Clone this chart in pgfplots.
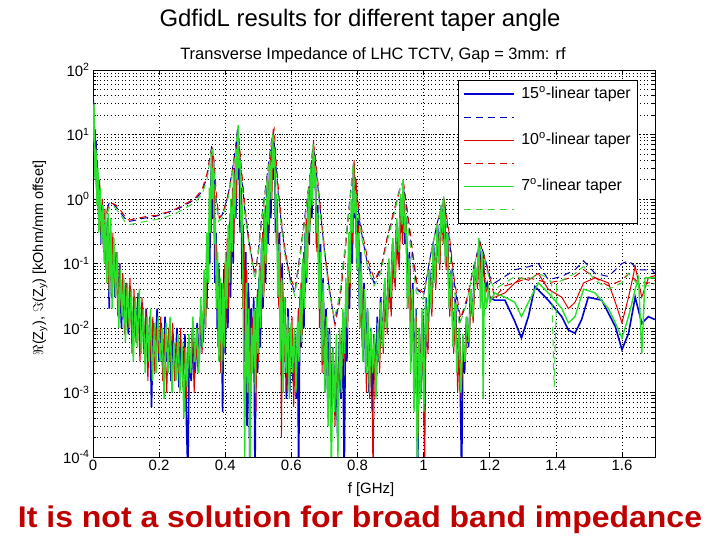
\documentclass[border=0pt]{standalone}
\usepackage{pgfplots}
\pgfplotsset{compat=1.18}
\usepackage{fontspec}
\setmainfont{Liberation Sans}
\definecolor{mblue}{RGB}{0,0,210}
\definecolor{mred}{RGB}{225,0,0}
\definecolor{mgreen}{RGB}{40,225,40}
\definecolor{dblue}{RGB}{0,0,180}
\definecolor{dred}{RGB}{220,0,0}
\definecolor{dgreen}{RGB}{60,215,60}
\definecolor{note}{RGB}{192,0,0}
\begin{document}
\begin{tikzpicture}[x=1bp,y=1bp]
\useasboundingbox (0,0) rectangle (720,540);
\begin{axis}[
  at={(93bp,83bp)}, anchor=south west,
  scale only axis, width=562bp, height=387bp,
  xmin=0, xmax=1.7, ymode=log, ymin=1e-4, ymax=1e2,
  xtick={0,0.2,0.4,0.6,0.8,1,1.2,1.4,1.6},
  xticklabels={0,0.2,0.4,0.6,0.8,1,1.2,1.4,1.6},
  ytick={1e-4,1e-3,1e-2,1e-1,1,10,100},
  yticklabels={10\textsuperscript{-4},10\textsuperscript{-3},10\textsuperscript{-2},10\textsuperscript{-1},10\textsuperscript{0},10\textsuperscript{1},10\textsuperscript{2}},
  tick align=inside, major tick length=5bp, minor tick length=3bp,
  grid=both,
  major grid style={black, line width=0.6bp, dash pattern=on 1bp off 2.5bp},
  minor grid style={black, line width=0.5bp, dash pattern=on 0.8bp off 2.8bp},
  axis line style={black, line width=0.7bp},
  tick style={black, line width=0.5bp},
  tick label style={font=\fontsize{15}{17}\selectfont},
  legend style={at={(0.968,0.974)}, anchor=north east,
    font=\fontsize{16}{18}\selectfont, inner sep=5bp, row sep=5bp,
    nodes={inner sep=1bp, text height=12bp, text depth=4bp}},
  legend cell align=left,
  legend image code/.code={\draw[#1] (0bp,0bp) -- (50bp,0bp);},
]
% 15 deg, real part
\addplot[draw=mblue, line width=1.6bp] coordinates {
(0.000,40)(0.003,20)(0.006,3)(0.009,8)(0.012,1.0)(0.015,2.5)(0.018,0.4)(0.021,1.3)(0.025,0.2)(0.029,0.8)
(0.033,0.15)(0.037,0.6)(0.041,0.08)(0.045,0.4)(0.049,0.02)(0.053,0.3)(0.057,0.06)(0.061,0.25)(0.066,0.03)(0.071,0.15)
(0.076,0.02)(0.081,0.1)(0.086,0.01)(0.091,0.06)(0.096,0.015)(0.101,0.05)(0.107,0.008)(0.113,0.04)(0.119,0.006)(0.125,0.03)
(0.131,0.01)(0.137,0.035)(0.143,0.005)(0.149,0.025)(0.155,0.004)(0.161,0.02)(0.167,0.003)(0.172,0.015)(0.177,0.0006)(0.182,0.012)
(0.188,0.004)(0.194,0.02)(0.200,0.003)(0.206,0.012)(0.212,0.002)(0.218,0.015)(0.224,0.003)(0.230,0.01)(0.236,0.0015)(0.242,0.008)
(0.248,0.002)(0.254,0.01)(0.260,0.0012)(0.266,0.006)(0.272,0.002)(0.278,0.008)(0.283,0.0003)(0.287,0.00005)(0.291,0.004)(0.297,0.0015)
(0.303,0.008)(0.309,0.002)(0.315,0.012)(0.321,0.003)(0.327,0.02)(0.333,0.006)(0.339,0.05)(0.344,0.02)(0.349,0.3)(0.353,0.1)
(0.357,2)(0.360,6)(0.363,0.5)(0.366,2)(0.369,0.05)(0.372,0.3)(0.376,0.01)(0.380,0.1)(0.384,0.003)(0.388,0.05)
(0.392,0.0005)(0.396,0.08)(0.400,0.004)(0.404,0.15)(0.408,0.01)(0.412,0.4)(0.416,0.03)(0.420,1)(0.424,0.1)(0.428,3)
(0.432,0.5)(0.436,10)(0.439,2)(0.442,6)(0.445,0.3)(0.448,1.5)(0.451,0.05)(0.454,0.4)(0.458,0.003)(0.462,0.15)
(0.466,0.0003)(0.470,0.05)(0.474,0.0001)(0.478,0.02)(0.482,0.002)(0.486,0.03)(0.490,0.00005)(0.494,0.02)(0.498,0.002)(0.502,0.06)
(0.506,0.005)(0.510,0.2)(0.514,0.02)(0.518,0.6)(0.522,0.05)(0.526,1.5)(0.530,0.2)(0.534,3)(0.538,0.5)(0.542,8)
(0.546,2)(0.549,6)(0.552,0.3)(0.556,1)(0.560,0.05)(0.564,0.3)(0.568,0.005)(0.572,0.1)(0.576,0.002)(0.580,0.03)
(0.585,0.0008)(0.590,0.02)(0.595,0.001)(0.600,0.01)(0.605,0.0015)(0.610,0.008)(0.615,0.0008)(0.619,0.01)(0.622,0.00005)(0.626,0.03)
(0.630,0.005)(0.634,0.1)(0.638,0.01)(0.642,0.3)(0.646,0.05)(0.650,1)(0.654,0.2)(0.658,2.5)(0.662,0.5)(0.666,6)
(0.669,1.5)(0.672,3)(0.676,0.2)(0.680,0.8)(0.684,0.03)(0.688,0.2)(0.692,0.005)(0.696,0.06)(0.700,0.002)(0.705,0.02)
(0.710,0.0008)(0.715,0.01)(0.720,0.0004)(0.725,0.005)(0.730,0.0008)(0.735,0.004)(0.740,0.0002)(0.745,0.006)(0.750,0.0008)(0.755,0.01)
(0.760,0.00005)(0.764,0.02)(0.768,0.003)(0.772,0.1)(0.776,0.02)(0.780,0.5)(0.784,0.1)(0.788,3)(0.791,0.5)(0.794,1.5)
(0.798,0.1)(0.802,0.5)(0.806,0.02)(0.810,0.15)(0.815,0.005)(0.820,0.05)(0.825,0.002)(0.830,0.02)(0.835,0.001)(0.840,0.01)
(0.845,0.0005)(0.850,0.008)(0.855,0.002)(0.860,0.015)(0.865,0.003)(0.870,0.03)(0.876,0.005)(0.882,0.05)(0.888,0.01)(0.894,0.1)
(0.900,0.02)(0.906,0.2)(0.912,0.05)(0.918,0.4)(0.924,0.1)(0.930,1)(0.935,0.3)(0.939,1.5)(0.943,0.2)(0.947,0.5)
(0.952,0.03)(0.957,0.15)(0.962,0.005)(0.967,0.05)(0.972,0.001)(0.977,0.02)(0.982,0.00005)(0.987,0.01)(0.992,0.001)(0.997,0.02)
(1.002,0.0003)(1.007,0.03)(1.012,0.005)(1.018,0.08)(1.024,0.02)(1.030,0.2)(1.036,0.05)(1.042,0.4)(1.048,0.1)(1.054,0.8)
(1.058,0.3)(1.062,0.9)(1.067,0.1)(1.072,0.3)(1.078,0.02)(1.084,0.08)(1.090,0.005)(1.096,0.03)(1.102,0.002)(1.108,0.01)
(1.112,0.0005)(1.115,0.00005)(1.119,0.005)(1.124,0.002)(1.130,0.015)(1.136,0.005)(1.142,0.04)(1.148,0.015)(1.155,0.1)(1.162,0.05)
(1.168,0.2)(1.174,0.08)(1.180,0.12)(1.186,0.04)(1.192,0.05)(1.200,0.03)
(1.215,0.027)(1.246,0.027)(1.276,0.0126)(1.296,0.007)(1.317,0.015)(1.337,0.044)(1.377,0.027)(1.418,0.015)(1.438,0.0093)(1.458,0.0083)
(1.478,0.0135)(1.498,0.03)(1.539,0.027)(1.559,0.017)(1.580,0.0105)(1.600,0.0046)(1.620,0.0083)(1.640,0.03)(1.660,0.0118)(1.680,0.015)(1.700,0.0135)};
\addlegendentry{\hspace{6bp}15\textsuperscript{o}-linear taper}
% 15 deg, imaginary part
\addplot[draw=dblue, line width=1bp, dash pattern=on 7bp off 5bp] coordinates {
(0.000,25)(0.004,10)(0.008,4)(0.012,2)(0.016,1.3)(0.020,0.9)(0.025,0.7)(0.030,0.56)(0.035,0.5)(0.040,0.63)
(0.050,0.9)(0.060,0.85)(0.070,0.75)(0.080,0.65)(0.090,0.55)(0.100,0.48)(0.110,0.45)(0.130,0.47)(0.150,0.5)(0.170,0.52)
(0.190,0.54)(0.210,0.58)(0.230,0.63)(0.250,0.68)(0.270,0.76)(0.290,0.87)(0.310,1.0)(0.330,1.3)(0.345,2.2)(0.355,5)
(0.360,7)(0.365,4)(0.372,1.0)(0.380,0.5)(0.390,0.56)(0.400,0.8)(0.410,1.26)(0.420,2.5)(0.430,5.6)(0.437,12)
(0.442,6.3)(0.450,2)(0.460,0.63)(0.470,0.25)(0.480,0.126)(0.490,0.063)(0.500,0.16)(0.510,0.5)(0.520,1.26)(0.530,3.2)
(0.540,8)(0.546,11)(0.552,4)(0.560,1.26)(0.570,0.4)(0.580,0.16)(0.595,0.063)(0.610,0.035)(0.625,0.126)(0.640,0.5)
(0.655,2)(0.665,6.3)(0.670,5)(0.680,1.6)(0.690,0.5)(0.700,0.16)(0.715,0.04)(0.730,0.0126)(0.745,0.025)(0.760,0.126)
(0.775,0.8)(0.787,3.2)(0.795,1.6)(0.805,0.5)(0.815,0.25)(0.830,0.1)(0.850,0.05)(0.870,0.08)(0.890,0.25)(0.910,0.63)
(0.930,1.6)(0.938,1.8)(0.950,0.63)(0.965,0.16)(0.980,0.04)(1.000,0.032)(1.020,0.126)(1.040,0.4)(1.060,1.0)(1.075,0.32)
(1.090,0.063)(1.110,0.0126)(1.130,0.025)(1.150,0.08)(1.170,0.22)(1.185,0.126)(1.200,0.063)
(1.215,0.05)(1.246,0.063)(1.276,0.08)(1.317,0.089)(1.347,0.1)(1.377,0.056)(1.418,0.063)(1.458,0.08)(1.484,0.11)(1.519,0.07)
(1.559,0.063)(1.600,0.1)(1.620,0.11)(1.651,0.08)(1.691,0.079)(1.700,0.07)};
\addlegendentry{}
% 10 deg, real part
\addplot[draw=mred, line width=1bp] coordinates {
(0.000,20)(0.004,5)(0.007,12)(0.010,1.5)(0.013,4)(0.016,0.6)(0.020,2)(0.024,0.3)(0.028,1.0)(0.032,0.15)
(0.036,0.7)(0.040,0.08)(0.044,0.5)(0.048,0.04)(0.052,0.4)(0.056,0.03)(0.060,0.3)(0.065,0.05)(0.070,0.15)(0.075,0.015)
(0.080,0.1)(0.085,0.02)(0.090,0.07)(0.095,0.008)(0.100,0.05)(0.106,0.01)(0.112,0.06)(0.118,0.004)(0.124,0.04)(0.130,0.006)
(0.136,0.025)(0.142,0.003)(0.148,0.03)(0.154,0.005)(0.160,0.02)(0.166,0.0015)(0.171,0.012)(0.176,0.003)(0.181,0.015)(0.187,0.002)
(0.193,0.01)(0.199,0.004)(0.205,0.015)(0.211,0.0015)(0.217,0.008)(0.223,0.001)(0.229,0.01)(0.235,0.003)(0.241,0.012)(0.247,0.0015)
(0.253,0.006)(0.259,0.002)(0.265,0.01)(0.271,0.0012)(0.277,0.005)(0.282,0.0008)(0.288,0.006)(0.294,0.002)(0.300,0.01)(0.306,0.001)
(0.312,0.006)(0.318,0.002)(0.324,0.015)(0.330,0.004)(0.336,0.03)(0.341,0.01)(0.346,0.15)(0.350,0.05)(0.354,1)(0.358,0.3)
(0.361,5)(0.364,1)(0.367,1.5)(0.370,0.1)(0.374,0.2)(0.378,0.005)(0.382,0.08)(0.386,0.002)(0.390,0.04)(0.394,0.003)
(0.398,0.1)(0.402,0.01)(0.406,0.25)(0.410,0.02)(0.414,0.6)(0.418,0.06)(0.422,1.5)(0.426,0.2)(0.430,4)(0.434,1)
(0.438,12)(0.441,3)(0.444,5)(0.447,0.5)(0.450,1)(0.453,0.02)(0.457,0.2)(0.461,0.002)(0.465,0.08)(0.469,0.001)
(0.473,0.03)(0.477,0.0008)(0.481,0.015)(0.485,0.003)(0.489,0.01)(0.493,0.0005)(0.497,0.04)(0.501,0.003)(0.505,0.1)(0.509,0.01)
(0.513,0.3)(0.517,0.03)(0.521,0.8)(0.525,0.1)(0.529,2)(0.533,0.3)(0.537,5)(0.541,1)(0.545,12)(0.548,3)
(0.551,4)(0.554,0.2)(0.558,0.6)(0.562,0.02)(0.566,0.15)(0.570,0.0002)(0.574,0.05)(0.578,0.003)(0.582,0.02)(0.587,0.001)
(0.592,0.01)(0.597,0.002)(0.602,0.015)(0.607,0.0006)(0.612,0.005)(0.617,0.002)(0.621,0.02)(0.625,0.004)(0.629,0.05)(0.633,0.008)
(0.637,0.15)(0.641,0.03)(0.645,0.5)(0.649,0.08)(0.653,1.5)(0.657,0.4)(0.661,4)(0.664,1)(0.667,8)(0.670,2)
(0.673,2.5)(0.677,0.15)(0.681,0.5)(0.685,0.01)(0.689,0.1)(0.693,0.002)(0.697,0.03)(0.702,0.001)(0.707,0.01)(0.712,0.0005)
(0.717,0.006)(0.722,0.001)(0.727,0.004)(0.732,0.0003)(0.737,0.003)(0.742,0.001)(0.747,0.008)(0.752,0.0015)(0.757,0.015)(0.762,0.003)
(0.766,0.05)(0.770,0.008)(0.774,0.2)(0.778,0.04)(0.782,0.8)(0.786,0.2)(0.790,4)(0.793,0.8)(0.796,2)(0.800,0.1)
(0.804,0.4)(0.808,0.01)(0.812,0.08)(0.817,0.003)(0.822,0.03)(0.827,0.001)(0.832,0.015)(0.837,0.0008)(0.842,0.008)(0.847,0.00005)
(0.852,0.005)(0.857,0.001)(0.862,0.01)(0.867,0.002)(0.872,0.02)(0.878,0.004)(0.884,0.04)(0.890,0.008)(0.896,0.08)(0.902,0.015)
(0.908,0.15)(0.914,0.04)(0.920,0.3)(0.926,0.08)(0.932,0.8)(0.936,0.2)(0.940,1.3)(0.944,0.3)(0.948,0.4)(0.953,0.02)
(0.958,0.1)(0.963,0.003)(0.968,0.04)(0.973,0.0008)(0.978,0.015)(0.983,0.0002)(0.988,0.008)(0.993,0.001)(0.998,0.015)(1.003,0.00005)
(1.008,0.02)(1.013,0.004)(1.019,0.06)(1.025,0.015)(1.031,0.15)(1.037,0.04)(1.043,0.3)(1.049,0.08)(1.055,0.7)(1.059,0.2)
(1.063,1)(1.068,0.08)(1.073,0.25)(1.079,0.015)(1.085,0.06)(1.091,0.004)(1.097,0.02)(1.103,0.001)(1.109,0.008)(1.114,0.0008)
(1.120,0.006)(1.126,0.003)(1.132,0.012)(1.138,0.006)(1.144,0.03)(1.150,0.012)(1.157,0.08)(1.163,0.04)(1.169,0.15)(1.175,0.06)
(1.181,0.1)(1.188,0.035)(1.194,0.045)(1.200,0.03)
(1.215,0.03)(1.246,0.035)(1.276,0.05)(1.296,0.06)(1.317,0.055)(1.347,0.07)(1.377,0.04)(1.418,0.03)(1.438,0.02)(1.458,0.025)
(1.484,0.05)(1.519,0.06)(1.559,0.05)(1.580,0.025)(1.600,0.012)(1.620,0.03)(1.640,0.09)(1.660,0.03)(1.680,0.06)(1.700,0.065)};
\addlegendentry{\hspace{6bp}10\textsuperscript{o}-linear taper}
% 10 deg, imaginary part
\addplot[draw=dred, line width=1bp, dash pattern=on 7bp off 5bp] coordinates {
(0.000,20)(0.004,8)(0.008,3.5)(0.012,1.8)(0.016,1.2)(0.020,0.85)(0.025,0.66)(0.030,0.55)(0.035,0.52)(0.040,0.6)
(0.050,0.85)(0.060,0.85)(0.070,0.8)(0.080,0.7)(0.090,0.6)(0.100,0.5)(0.110,0.47)(0.130,0.5)(0.150,0.52)(0.170,0.55)
(0.190,0.55)(0.210,0.6)(0.230,0.63)(0.250,0.7)(0.270,0.8)(0.290,0.9)(0.310,1.05)(0.330,1.4)(0.345,2.5)(0.357,5.5)
(0.362,6)(0.367,3.5)(0.374,1.0)(0.382,0.5)(0.392,0.6)(0.402,0.85)(0.412,1.4)(0.422,2.8)(0.432,6)(0.439,13)
(0.444,6)(0.452,2)(0.462,0.6)(0.472,0.22)(0.482,0.11)(0.492,0.07)(0.502,0.18)(0.512,0.55)(0.522,1.4)(0.532,3.5)
(0.542,9)(0.548,12)(0.554,4)(0.562,1.2)(0.572,0.38)(0.582,0.15)(0.597,0.06)(0.612,0.04)(0.627,0.14)(0.642,0.55)
(0.657,2.2)(0.667,7)(0.672,5)(0.682,1.5)(0.692,0.45)(0.702,0.14)(0.717,0.035)(0.732,0.011)(0.747,0.028)(0.762,0.14)
(0.777,0.9)(0.789,3.5)(0.797,1.6)(0.807,0.5)(0.817,0.26)(0.832,0.11)(0.852,0.055)(0.872,0.09)(0.892,0.28)(0.912,0.7)
(0.932,1.6)(0.940,1.7)(0.952,0.6)(0.967,0.15)(0.982,0.04)(1.002,0.035)(1.022,0.14)(1.042,0.45)(1.062,1.0)(1.077,0.3)
(1.092,0.06)(1.112,0.014)(1.132,0.03)(1.152,0.09)(1.172,0.2)(1.187,0.11)(1.200,0.06)
(1.215,0.03)(1.246,0.045)(1.276,0.05)(1.317,0.06)(1.347,0.055)(1.377,0.05)(1.418,0.055)(1.458,0.063)(1.484,0.08)(1.519,0.06)
(1.559,0.045)(1.600,0.055)(1.620,0.07)(1.651,0.05)(1.691,0.05)(1.700,0.055)};
\addlegendentry{}
% 7 deg, real part
\addplot[draw=mgreen, line width=1.4bp] coordinates {
(0.000,10)(0.003,30)(0.006,2)(0.009,6)(0.012,0.8)(0.015,3)(0.018,0.3)(0.022,1.5)(0.026,0.2)(0.030,0.8)
(0.034,0.1)(0.038,0.7)(0.042,0.05)(0.046,0.6)(0.050,0.03)(0.054,0.5)(0.058,0.02)(0.063,0.25)(0.068,0.03)(0.073,0.15)
(0.078,0.01)(0.083,0.08)(0.088,0.015)(0.093,0.06)(0.098,0.006)(0.104,0.05)(0.110,0.01)(0.116,0.04)(0.122,0.003)(0.128,0.03)
(0.134,0.005)(0.140,0.04)(0.146,0.004)(0.152,0.02)(0.158,0.002)(0.164,0.015)(0.169,0.003)(0.174,0.02)(0.180,0.0015)(0.186,0.012)
(0.191,0.002)(0.197,0.015)(0.203,0.003)(0.209,0.01)(0.215,0.0008)(0.221,0.012)(0.227,0.002)(0.233,0.015)(0.239,0.001)(0.245,0.006)
(0.251,0.0015)(0.257,0.008)(0.263,0.001)(0.269,0.006)(0.275,0.0004)(0.280,0.005)(0.285,0.0012)(0.290,0.008)(0.296,0.002)(0.302,0.015)
(0.308,0.003)(0.314,0.01)(0.320,0.002)(0.326,0.03)(0.331,0.005)(0.336,0.08)(0.340,0.01)(0.344,0.3)(0.348,0.05)(0.352,1.5)
(0.355,0.3)(0.358,5)(0.361,1)(0.364,3)(0.367,0.2)(0.370,0.5)(0.373,0.02)(0.377,0.15)(0.381,0.003)(0.385,0.06)
(0.389,0.002)(0.393,0.05)(0.397,0.005)(0.401,0.15)(0.405,0.02)(0.409,0.4)(0.413,0.05)(0.417,1)(0.421,0.15)(0.425,2.5)
(0.429,0.5)(0.433,6)(0.436,2)(0.439,14)(0.442,3)(0.445,4)(0.448,0.3)(0.451,0.8)(0.455,0.01)(0.459,0.0001)
(0.463,0.05)(0.467,0.001)(0.471,0.02)(0.475,0.00005)(0.479,0.01)(0.483,0.002)(0.487,0.02)(0.491,0.001)(0.495,0.03)(0.499,0.004)
(0.503,0.08)(0.507,0.01)(0.511,0.25)(0.515,0.03)(0.519,0.7)(0.523,0.1)(0.527,2)(0.531,0.4)(0.535,4)(0.539,1)
(0.543,10)(0.546,3)(0.549,6)(0.552,0.5)(0.555,1.2)(0.559,0.03)(0.563,0.2)(0.567,0.003)(0.571,0.06)(0.575,0.001)
(0.579,0.03)(0.584,0.002)(0.589,0.015)(0.594,0.0008)(0.599,0.012)(0.604,0.002)(0.609,0.01)(0.614,0.001)(0.619,0.015)(0.623,0.003)
(0.627,0.04)(0.631,0.006)(0.635,0.12)(0.639,0.02)(0.643,0.4)(0.647,0.06)(0.651,1.2)(0.655,0.3)(0.659,3)(0.663,0.8)
(0.666,7)(0.669,1.5)(0.672,3)(0.676,0.3)(0.680,0.6)(0.684,0.02)(0.688,0.15)(0.692,0.003)(0.696,0.05)(0.701,0.001)
(0.706,0.015)(0.711,0.0003)(0.716,0.008)(0.721,0.00005)(0.726,0.005)(0.731,0.0005)(0.736,0.008)(0.741,0.0001)(0.746,0.01)(0.751,0.001)
(0.756,0.02)(0.761,0.004)(0.765,0.06)(0.769,0.01)(0.773,0.3)(0.777,0.05)(0.781,1)(0.785,0.3)(0.788,3.5)(0.791,0.6)
(0.795,1.2)(0.799,0.08)(0.803,0.3)(0.807,0.01)(0.811,0.1)(0.816,0.003)(0.821,0.04)(0.826,0.002)(0.831,0.02)(0.836,0.001)
(0.841,0.01)(0.846,0.002)(0.851,0.008)(0.856,0.0008)(0.861,0.012)(0.866,0.003)(0.871,0.025)(0.877,0.005)(0.883,0.06)(0.889,0.01)
(0.895,0.12)(0.901,0.03)(0.907,0.25)(0.913,0.06)(0.919,0.5)(0.925,0.15)(0.931,1.2)(0.935,0.4)(0.938,2)(0.942,0.3)
(0.946,0.6)(0.951,0.02)(0.956,0.12)(0.961,0.002)(0.966,0.04)(0.971,0.0005)(0.976,0.02)(0.981,0.00005)(0.986,0.01)(0.991,0.0008)
(0.996,0.02)(1.001,0.0005)(1.006,0.03)(1.011,0.006)(1.017,0.08)(1.023,0.02)(1.029,0.2)(1.035,0.05)(1.041,0.4)(1.047,0.1)
(1.053,0.8)(1.057,0.3)(1.061,1.1)(1.066,0.1)(1.071,0.3)(1.077,0.02)(1.083,0.07)(1.089,0.005)(1.095,0.025)(1.101,0.002)
(1.107,0.01)(1.113,0.001)(1.119,0.008)(1.125,0.003)(1.131,0.015)(1.137,0.006)(1.143,0.04)(1.149,0.015)(1.156,0.1)(1.162,0.05)
(1.167,0.25)(1.172,0.02)(1.177,0.15)(1.180,0.0008)(1.184,0.05)(1.190,0.02)(1.196,0.04)(1.200,0.025)
(1.215,0.035)(1.246,0.03)(1.276,0.025)(1.296,0.015)(1.317,0.025)(1.347,0.05)(1.377,0.035)(1.418,0.02)(1.438,0.012)(1.458,0.015)
(1.484,0.04)(1.519,0.035)(1.559,0.02)(1.580,0.012)(1.600,0.007)(1.620,0.015)(1.640,0.04)(1.650,0.06)(1.660,0.004)(1.670,0.06)
(1.690,0.06)(1.700,0.06)};
\addlegendentry{\hspace{6bp}7\textsuperscript{o}-linear taper}
% 7 deg, imaginary part
\addplot[draw=dgreen, line width=1bp, dash pattern=on 7bp off 5bp] coordinates {
(0.000,15)(0.004,6)(0.008,3)(0.012,1.6)(0.016,1.0)(0.020,0.75)(0.025,0.6)(0.030,0.5)(0.035,0.45)(0.040,0.52)
(0.050,0.75)(0.060,0.8)(0.070,0.7)(0.080,0.6)(0.090,0.5)(0.100,0.42)(0.110,0.4)(0.130,0.42)(0.150,0.44)(0.170,0.46)
(0.190,0.48)(0.210,0.5)(0.230,0.55)(0.250,0.6)(0.270,0.68)(0.290,0.78)(0.310,0.9)(0.330,1.2)(0.345,2)(0.355,4.5)
(0.360,6.5)(0.365,3.5)(0.372,0.9)(0.380,0.45)(0.390,0.5)(0.400,0.7)(0.410,1.1)(0.420,2.2)(0.430,5)(0.436,10)
(0.441,6)(0.450,1.8)(0.460,0.56)(0.470,0.22)(0.480,0.11)(0.490,0.056)(0.500,0.14)(0.510,0.45)(0.520,1.1)(0.530,2.8)
(0.540,7)(0.545,10)(0.551,3.5)(0.560,1.1)(0.570,0.35)(0.580,0.14)(0.595,0.056)(0.610,0.032)(0.625,0.11)(0.640,0.45)
(0.655,1.8)(0.664,5.6)(0.669,4.5)(0.680,1.4)(0.690,0.45)(0.700,0.14)(0.715,0.035)(0.730,0.014)(0.745,0.03)(0.760,0.14)
(0.775,0.7)(0.785,2.8)(0.793,1.4)(0.805,0.45)(0.815,0.22)(0.830,0.09)(0.850,0.045)(0.870,0.07)(0.890,0.22)(0.910,0.56)
(0.928,1.4)(0.936,1.8)(0.948,0.56)(0.963,0.14)(0.978,0.035)(0.998,0.028)(1.018,0.11)(1.038,0.35)(1.058,0.9)(1.073,0.28)
(1.088,0.056)(1.108,0.011)(1.128,0.022)(1.148,0.07)(1.168,0.2)(1.183,0.11)(1.200,0.056)
(1.215,0.04)(1.246,0.05)(1.276,0.063)(1.317,0.055)(1.347,0.07)(1.377,0.06)(1.387,0.05)(1.395,0.0012)(1.403,0.05)(1.458,0.07)
(1.484,0.09)(1.519,0.055)(1.559,0.04)(1.600,0.05)(1.620,0.07)(1.651,0.045)(1.691,0.045)(1.700,0.05)};
\addlegendentry{}
\end{axis}
\node at (360,520) {\fontsize{24}{28}\selectfont GdfidL results for different taper angle};
\node at (373,485) {\fontsize{16.5}{19}\selectfont Transverse Impedance of LHC TCTV, Gap = 3mm: rf};
\node at (371,50) {\fontsize{15}{18}\selectfont f [GHz]};
\node[rotate=90] at (40,282) {\fontsize{14.5}{17}\selectfont $\Re$(Z\textsubscript{y}), $\Im$(Z\textsubscript{y}) [kOhm/mm offset]};
\node[text=note, xscale=1.07] at (360,20) {\fontsize{30}{34}\selectfont\bfseries It is not a solution for broad band impedance};
\end{tikzpicture}
\end{document}
